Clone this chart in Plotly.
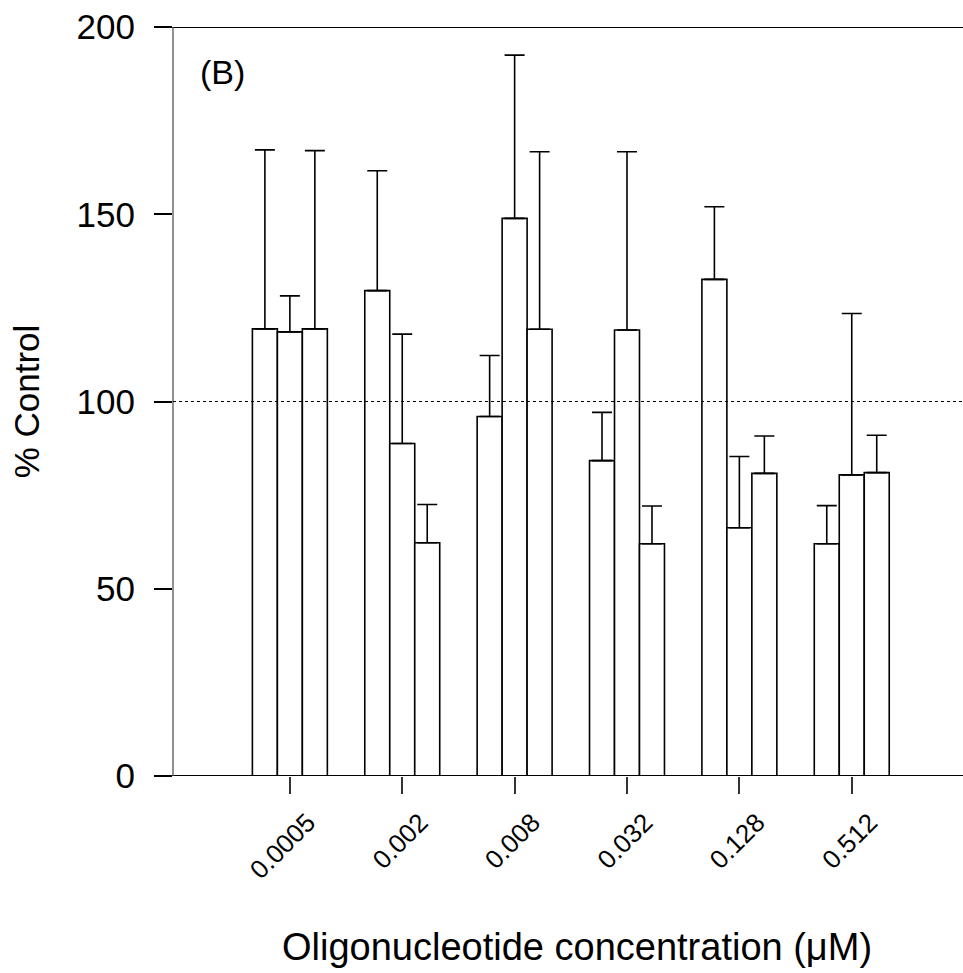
import plotly.graph_objects as go

categories = ["0.0005", "0.002", "0.008", "0.032", "0.128", "0.512"]
series1 = [119.4, 129.6, 96.0, 84.2, 132.6, 62.0]
series1_err = [47.8, 32.0, 16.3, 12.9, 19.4, 10.2]
series2 = [118.6, 88.8, 148.9, 119.1, 66.3, 80.4]
series2_err = [9.6, 29.2, 43.6, 47.6, 19.0, 43.1]
series3 = [119.4, 62.3, 119.3, 62.0, 80.8, 81.0]
series3_err = [47.6, 10.2, 47.4, 10.1, 10.0, 10.0]
y_ticks = [0, 50, 100, 150, 200]

FONT = "Arial, Liberation Sans, Helvetica, sans-serif"

fig = go.Figure()
for vals, errs in [(series1, series1_err), (series2, series2_err), (series3, series3_err)]:
    fig.add_trace(go.Bar(
        x=categories, y=vals,
        marker=dict(color="white", line=dict(color="black", width=1.6)),
        error_y=dict(type="data", array=errs, arrayminus=[0] * len(errs),
                     symmetric=False, color="black", thickness=1.6, width=10),
        showlegend=False,
    ))

fig.update_layout(
    width=963, height=973,
    margin=dict(l=173, r=0, t=27, b=197),
    paper_bgcolor="white", plot_bgcolor="white",
    barmode="group", bargap=0.333, bargroupgap=0,
    font=dict(family=FONT, color="black"),
    xaxis=dict(
        type="category", range=[-1.04, 5.99],
        showline=False, showgrid=False, zeroline=False,
        ticks="outside", ticklen=17, tickwidth=1.5, tickcolor="#333",
        tickangle=-45, tickfont=dict(size=26, family=FONT),
        ticklabelshift=18, ticklabelstandoff=3,
    ),
    yaxis=dict(
        range=[0, 200], tickvals=y_ticks,
        showline=False, showgrid=False, zeroline=False,
        ticks="outside", ticklen=18, tickwidth=2, tickcolor="black",
        tickfont=dict(size=35, family=FONT),
        ticklabelstandoff=12,
    ),
)

# axis lines
fig.add_shape(type="line", xref="paper", yref="y", x0=-0.0228, x1=1, y0=0, y1=0,
              line=dict(color="black", width=2))
fig.add_shape(type="line", xref="paper", yref="y", x0=-0.0228, x1=1, y0=200, y1=200,
              line=dict(color="black", width=2))
fig.add_shape(type="line", xref="paper", yref="y", x0=0, x1=0, y0=-4.5, y1=200,
              line=dict(color="#555", width=1.3))
# control reference line
fig.add_shape(type="line", xref="paper", yref="y", x0=0, x1=1, y0=100, y1=100,
              line=dict(color="black", width=1.2, dash="dot"), layer="above")

fig.add_annotation(text="(B)", xref="paper", yref="y", x=0.0316, y=188,
                   xanchor="left", yanchor="middle", showarrow=False,
                   font=dict(size=34, family=FONT))
fig.add_annotation(text="% Control", xref="paper", yref="paper", x=-0.185, y=0.5,
                   xanchor="center", yanchor="middle", textangle=-90, showarrow=False,
                   font=dict(size=35, family=FONT))
fig.add_annotation(text="Oligonucleotide concentration (μM)", xref="paper", yref="paper",
                   x=0.511, y=-0.228, xanchor="center", yanchor="middle", showarrow=False,
                   font=dict(size=38, family=FONT))

fig.write_html("out.html", config={"displayModeBar": False},
               post_script="document.body.style.margin='0px';document.body.style.overflow='hidden';")
